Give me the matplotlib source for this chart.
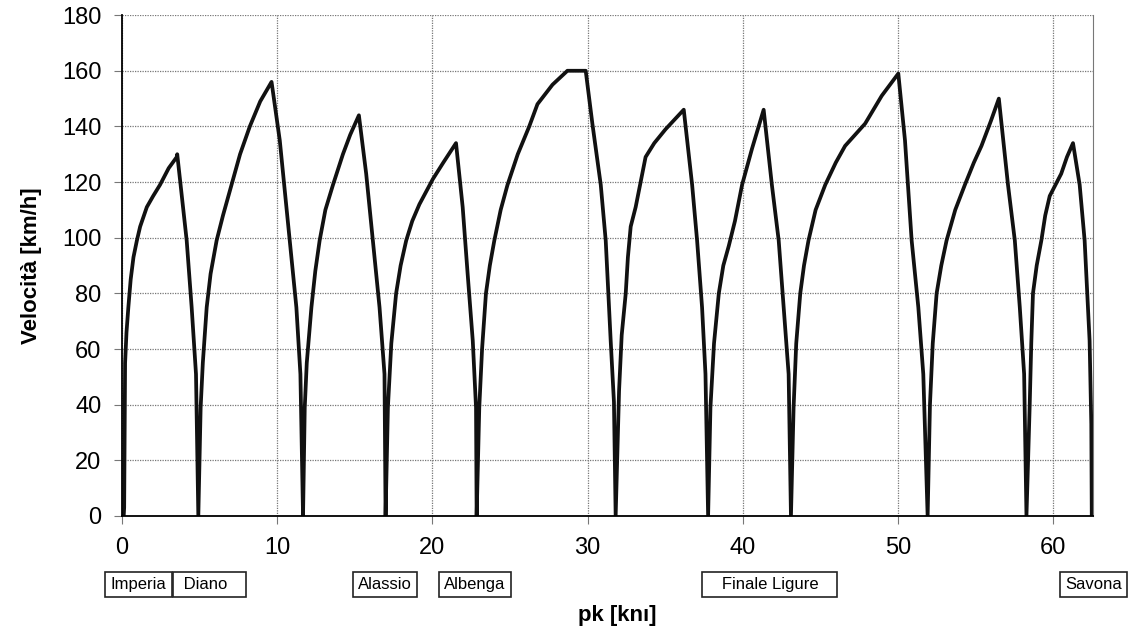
import matplotlib.pyplot as plt
import numpy as np

plt.rcParams['font.family'] = ['Liberation Sans', 'DejaVu Sans']

# speed profile: pk [km], speed [km/h]
pk = [0.10, 0.13, 0.19, 0.28, 0.40, 0.55, 0.73, 0.95, 1.16, 1.59, 2.00, 2.44, 3.00, 3.52, 3.55,
      4.16, 4.48, 4.76, 4.91,
      5.06, 5.20, 5.45, 5.70, 6.09, 6.50, 7.05, 7.60, 8.23, 8.90, 9.63,
      10.16, 10.80, 11.23, 11.49, 11.66,
      11.77, 11.90, 12.20, 12.45, 12.73, 13.10, 13.59, 14.23, 14.70, 15.26,
      15.73, 16.16, 16.59, 16.91, 16.98,
      17.13, 17.35, 17.66, 17.95, 18.31, 18.70, 19.16, 20.02, 20.70, 21.52,
      21.95, 22.27, 22.60, 22.81, 22.85,
      23.02, 23.20, 23.45, 23.70, 23.99, 24.40, 24.84, 25.50, 26.24, 26.77, 27.74, 28.70, 29.88,
      30.31, 30.85, 31.17, 31.49, 31.70, 31.81,
      32.03, 32.20, 32.46, 32.60, 32.78, 33.10, 33.74, 34.30, 35.03, 36.20,
      36.74, 37.06, 37.38, 37.60, 37.77,
      37.92, 38.15, 38.46, 38.75, 39.10, 39.50, 39.96, 40.60, 41.35,
      41.88, 42.32, 42.64, 42.96, 43.11,
      43.28, 43.45, 43.71, 43.95, 44.24, 44.70, 45.32, 46.00, 46.60, 47.89, 48.96, 50.03,
      50.46, 50.89, 51.32, 51.64, 51.92,
      52.07, 52.25, 52.50, 52.80, 53.14, 53.70, 54.32, 54.90, 55.39, 56.00, 56.51,
      57.10, 57.54, 57.86, 58.14, 58.29,
      58.50, 58.60, 58.71, 58.95, 59.25, 59.50, 59.79, 60.53, 60.90, 61.29,
      61.72, 62.04, 62.36, 62.47, 62.50]
speed = [0, 3, 55, 66, 75, 85, 93, 99, 104, 111, 115, 119, 125, 129, 130,
         99, 75, 51, 0,
         39, 55, 75, 87, 99, 108, 119, 130, 140, 149, 156,
         135, 99, 75, 51, 0,
         39, 55, 75, 88, 99, 110, 119, 130, 137, 144,
         123, 99, 75, 51, 0,
         39, 62, 80, 90, 99, 106, 112, 121, 127, 134,
         111, 87, 63, 39, 0,
         39, 60, 80, 90, 99, 110, 119, 130, 140, 148, 155, 160, 160,
         141, 119, 99, 63, 41, 0,
         45, 65, 80, 93, 104, 111, 129, 134, 139, 146,
         119, 99, 75, 51, 0,
         39, 62, 80, 90, 97, 106, 119, 132, 146,
         119, 99, 75, 51, 0,
         39, 62, 80, 90, 99, 110, 119, 127, 133, 141, 151, 159,
         135, 99, 75, 51, 0,
         40, 62, 80, 90, 99, 110, 119, 127, 133, 142, 150,
         119, 99, 75, 51, 0,
         40, 62, 80, 90, 99, 108, 115, 123, 129, 134,
         119, 99, 63, 33, 0]

stations = ['Imperia', ' Diano   ', 'Alassio', 'Albenga', '   Finale Ligure   ', 'Savona']
station_pk = [1.05, 5.65, 16.95, 22.75, 41.75, 62.6]

fig = plt.figure(figsize=(11.31, 6.3), dpi=100)
ax = fig.add_axes([0.108, 0.181, 0.858, 0.795])

ax.plot(pk, speed, color='#111111', lw=2.7, solid_joinstyle='round')

ax.set_xlim(0, 62.55)
ax.set_ylim(0, 180)
ax.set_xticks(np.arange(0, 61, 10))
ax.set_yticks(np.arange(0, 181, 20))
ax.grid(True, color='#777777', linestyle=(0, (1, 1)), linewidth=0.9)
ax.tick_params(labelsize=17, length=6, color='#777777', pad=9)

ax.spines['top'].set_visible(False)
ax.spines['right'].set_linestyle((0, (1, 1)))
ax.spines['right'].set_color('#777777')
ax.spines['left'].set_linewidth(1.3)
ax.spines['bottom'].set_linewidth(1.3)

ax.set_ylabel('Velocità [km/h]', fontsize=16, fontweight='bold', labelpad=14)
ax.set_xlabel('pk [knı]', fontsize=16, fontweight='bold')
ax.xaxis.set_label_coords(0.51, -0.178)

for name, x in zip(stations, station_pk):
    ax.text(x, -0.137, name, transform=ax.get_xaxis_transform(),
            ha='center', va='center', fontsize=12, clip_on=False,
            bbox=dict(boxstyle='square,pad=0.32', fc='white', ec='#222222', lw=1.2))

fig.savefig('out.png', dpi=100)
